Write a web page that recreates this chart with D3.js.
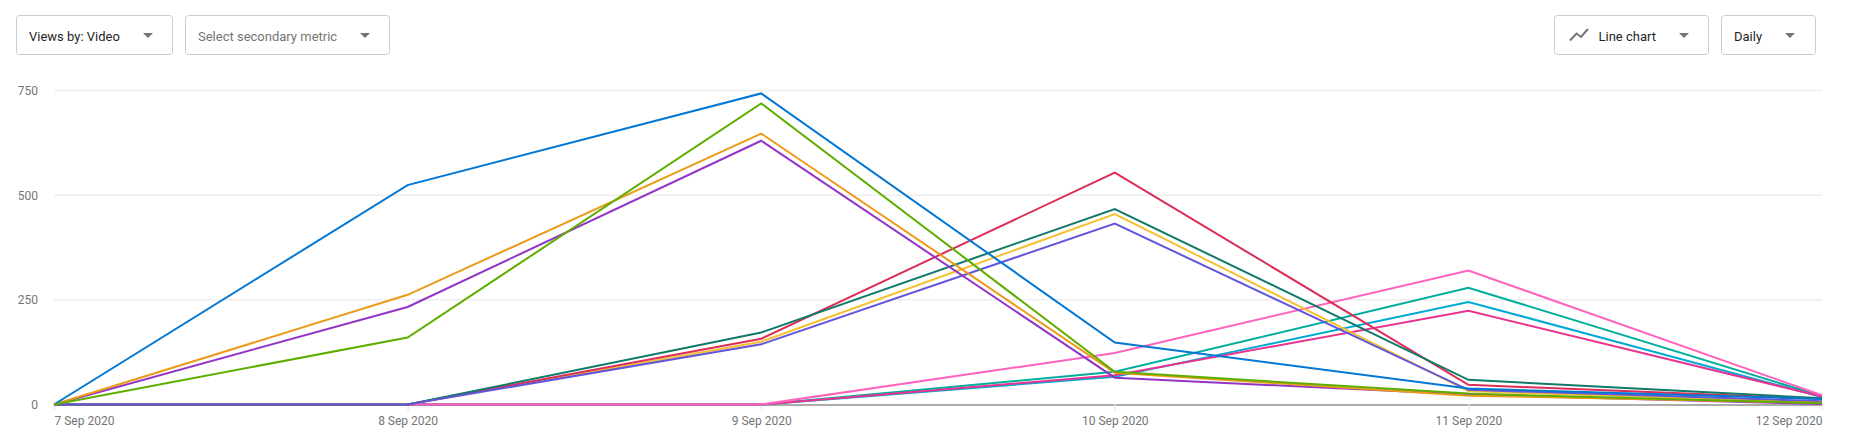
<!DOCTYPE html>
<html>
<head>
<meta charset="utf-8">
<title>Views by video</title>
<script src="https://cdn.jsdelivr.net/npm/d3@7"></script>
<style>
  html, body { margin: 0; padding: 0; background: #fff; }
  svg { display: block; }
  text { font-family: Roboto, sans-serif; }
  .axis .domain { stroke: #909090; stroke-width: 1.5px; }
</style>
</head>
<body>
<svg id="chart" width="1852" height="442"></svg>
<script>
// values
var days = ["7 Sep 2020", "8 Sep 2020", "9 Sep 2020", "10 Sep 2020", "11 Sep 2020", "12 Sep 2020"];
var yTicks = [0, 250, 500, 750];

// third batch, starts one day late
var teal    = [null, 0, 0, 78, 279, 20];
var cyan    = [null, 0, 0, 66, 245, 18];
var magenta = [null, 0, 0, 70, 224, 19];
var pink    = [null, 0, 0, 123, 320, 22];
// second batch
var yellow    = [0, 0, 150, 455, 32, 5];
var red       = [0, 0, 157, 554, 47, 13];
var darkGreen = [0, 0, 172, 467, 59, 15];
var indigo    = [0, 0, 144, 432, 35, 8];
// first batch
var purple = [0, 233, 630, 64, 24, 1];
var orange = [0, 262, 647, 76, 21, 4];
var blue   = [0, 524, 743, 148, 38, 13];
var green  = [0, 160, 719, 78, 26, 3];

var seriesList = [teal, cyan, magenta, pink, yellow, red, darkGreen, indigo, purple, orange, blue, green];
var seriesColors = ["#00ae9e", "#00a9d4", "#e8348f", "#ff63bd", "#f5c12e", "#dc2d56", "#0f7a68", "#6455db", "#9334c8", "#eb9b17", "#0277d4", "#5eae00"];

var buttons = [
  {label: "Views by: Video", x: 16.5, w: 156, textX: 29, arrowX: 148, color: "#1f1f1f"},
  {label: "Select secondary metric", x: 185.5, w: 204, textX: 198, arrowX: 365, color: "#757575"},
  {label: "Line chart", x: 1554.5, w: 154, textX: 1598.5, arrowX: 1684, color: "#1f1f1f"},
  {label: "Daily", x: 1721.5, w: 94, textX: 1734, arrowX: 1790, color: "#1f1f1f"}
];

var svg = d3.select("#chart");

var x = d3.scalePoint().domain(days).range([54, 1822]);
var y = d3.scaleLinear().domain([0, 750]).range([404.5, 90.5]);

// grid
svg.append("g")
  .selectAll("line")
  .data(yTicks.slice(1))
  .enter().append("line")
  .attr("x1", 54)
  .attr("x2", 1822)
  .attr("y1", function(d) { return y(d); })
  .attr("y2", function(d) { return y(d); })
  .attr("stroke", "#eeeeee")
  .attr("stroke-width", 1.5);

// y axis labels
var yAxis = svg.append("g")
  .attr("transform", "translate(54,0)")
  .call(d3.axisLeft(y).tickValues(yTicks).tickSize(0).tickPadding(16).tickFormat(d3.format("d")));
yAxis.select(".domain").remove();
yAxis.selectAll("text")
  .style("font-size", "12px")
  .style("font-family", "Roboto, sans-serif")
  .attr("fill", "#757575");

// x axis
var xAxis = svg.append("g")
  .attr("class", "axis")
  .attr("transform", "translate(0,404.5)")
  .call(d3.axisBottom(x).tickSize(6).tickPadding(6).tickSizeOuter(0));
xAxis.selectAll(".tick line").attr("stroke", "#e8e8e8").attr("stroke-width", 1.5);
xAxis.selectAll("text")
  .style("font-size", "12px")
  .style("font-family", "Roboto, sans-serif")
  .attr("fill", "#757575")
  .attr("text-anchor", function(d, i) {
    if (i == 0) return "start";
    return i == days.length - 1 ? "end" : "middle";
  });

// lines
var line = d3.line()
  .defined(function(d) { return d != null; })
  .x(function(d, i) { return x(days[i]); })
  .y(function(d) { return y(d); });

svg.append("g")
  .selectAll("path")
  .data(seriesList)
  .enter().append("path")
  .attr("d", line)
  .attr("fill", "none")
  .attr("stroke", function(d, i) { return seriesColors[i]; })
  .attr("stroke-width", 2)
  .attr("stroke-linejoin", "miter");

// dropdowns
var btn = svg.append("g")
  .selectAll("g")
  .data(buttons)
  .enter().append("g");

btn.append("rect")
  .attr("x", function(d) { return d.x; })
  .attr("y", 15.5)
  .attr("width", function(d) { return d.w; })
  .attr("height", 39)
  .attr("rx", 3)
  .attr("fill", "#fff")
  .attr("stroke", "#cccccc");

btn.append("text")
  .attr("x", function(d) { return d.textX; })
  .attr("y", 36)
  .attr("dy", "0.35em")
  .attr("font-size", 13)
  .attr("fill", function(d) { return d.color; })
  .text(function(d) { return d.label; });

btn.append("path")
  .attr("d", function(d) { return "M" + (d.arrowX - 5) + ",33 h10 l-5,5 z"; })
  .attr("fill", "#757575");

// little line chart icon
svg.append("path")
  .attr("d", "M1570,40.5 L1576.5,33.5 L1581,37 L1588,29")
  .attr("fill", "none")
  .attr("stroke", "#757575")
  .attr("stroke-width", 2);
</script>
</body>
</html>
